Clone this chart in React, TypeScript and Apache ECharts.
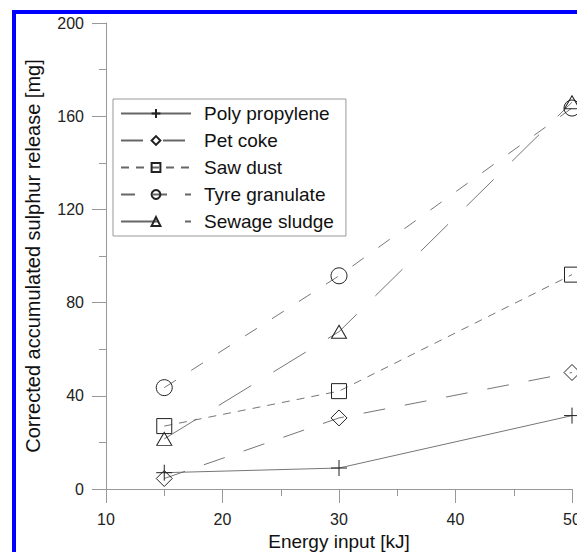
import React, { useEffect, useRef } from "react";
import * as echarts from "echarts";

const energyInput = [15, 30, 50];
const seriesNames = ["Poly propylene", "Pet coke", "Saw dust", "Tyre granulate", "Sewage sludge"];
const polyPropylene = [7, 9, 31.5];
const petCoke = [4.5, 30.5, 50];
const sawDust = [27, 42, 92];
const tyreGranulate = [43.5, 91.5, 163.5];
const sewageSludge = [21.5, 67.5, 166];

const FONT = "Liberation Sans, Arial, sans-serif";

export default function App() {
  const ref = useRef<HTMLDivElement>(null);
  useEffect(() => {
    if (!ref.current) return;
    const chart = echarts.init(ref.current, undefined, { renderer: "svg" });
    const values = [polyPropylene, petCoke, sawDust, tyreGranulate, sewageSludge];
    const symbols = [
      "path://M5,0 L5,10 M0,5 L10,5",
      "diamond",
      "rect",
      "circle",
      "triangle",
    ];
    const sizes: any[] = [16, 16, 15, 16, [15, 13]];
    const dashes: any[] = ["solid", [22, 20], [8, 7], [14, 18], [38, 26]];
    const series = seriesNames.map((name, i) => ({
      name,
      type: "line",
      data: energyInput.map((x, j) => [x, values[i][j]]),
      symbol: symbols[i],
      symbolSize: sizes[i],
      showSymbol: true,
      lineStyle: { color: "#666", width: 0.9, type: dashes[i] },
      itemStyle: { color: "rgba(255,255,255,0)", borderColor: "#222", borderWidth: 1 },
      z: 2,
    }));
    chart.setOption({
      animation: false,
      textStyle: { fontFamily: FONT },
      grid: { left: 106, top: 23, right: 5, bottom: 63, containLabel: false, outerBoundsMode: "none" },
      legend: {
        show: true,
        orient: "vertical",
        left: 113,
        top: 99,
        itemWidth: 70,
        itemHeight: 11,
        itemGap: 8,
        padding: [5, 12, 5, 7],
        borderColor: "#999",
        borderWidth: 1,
        backgroundColor: "#fff",
        textStyle: { fontSize: 19, color: "#111", fontFamily: FONT, padding: [0, 0, 0, 8] },
        data: seriesNames,
      },
      xAxis: {
        type: "value",
        min: 10,
        max: 50,
        interval: 10,
        name: "Energy input [kJ]",
        nameLocation: "middle",
        nameGap: 41,
        nameTextStyle: { fontSize: 19, color: "#111", fontFamily: FONT },
        axisLine: { show: true, lineStyle: { color: "#999", width: 1 } },
        axisTick: { show: true, inside: false, length: 14, lineStyle: { color: "#999" } },
        minorTick: { show: true, splitNumber: 2, length: 7, lineStyle: { color: "#999" } },
        splitLine: { show: false },
        axisLabel: { fontSize: 16, color: "#222", margin: 22, fontFamily: FONT },
      },
      yAxis: {
        type: "value",
        min: 0,
        max: 200,
        interval: 40,
        name: "Corrected accumulated sulphur release [mg]",
        nameLocation: "middle",
        nameGap: 63,
        nameTextStyle: { fontSize: 20, color: "#111", fontFamily: FONT },
        axisLine: { show: true, lineStyle: { color: "#999", width: 1 } },
        axisTick: { show: true, inside: false, length: 14, lineStyle: { color: "#999" } },
        minorTick: { show: true, splitNumber: 2, length: 7, lineStyle: { color: "#999" } },
        splitLine: { show: false },
        axisLabel: { fontSize: 16, color: "#222", margin: 22, fontFamily: FONT },
      },
      graphic: [
        {
          type: "rect",
          silent: true,
          z: 100,
          shape: { x: 14, y: 12, width: 1000, height: 1000 },
          style: { fill: "none", stroke: "#0000ff", lineWidth: 4 },
        },
      ],
      series,
    });
    return () => chart.dispose();
  }, []);
  return (
    <div
      ref={ref}
      style={{ position: "absolute", left: 0, top: 0, width: 577, height: 552, background: "#fff" }}
    />
  );
}
